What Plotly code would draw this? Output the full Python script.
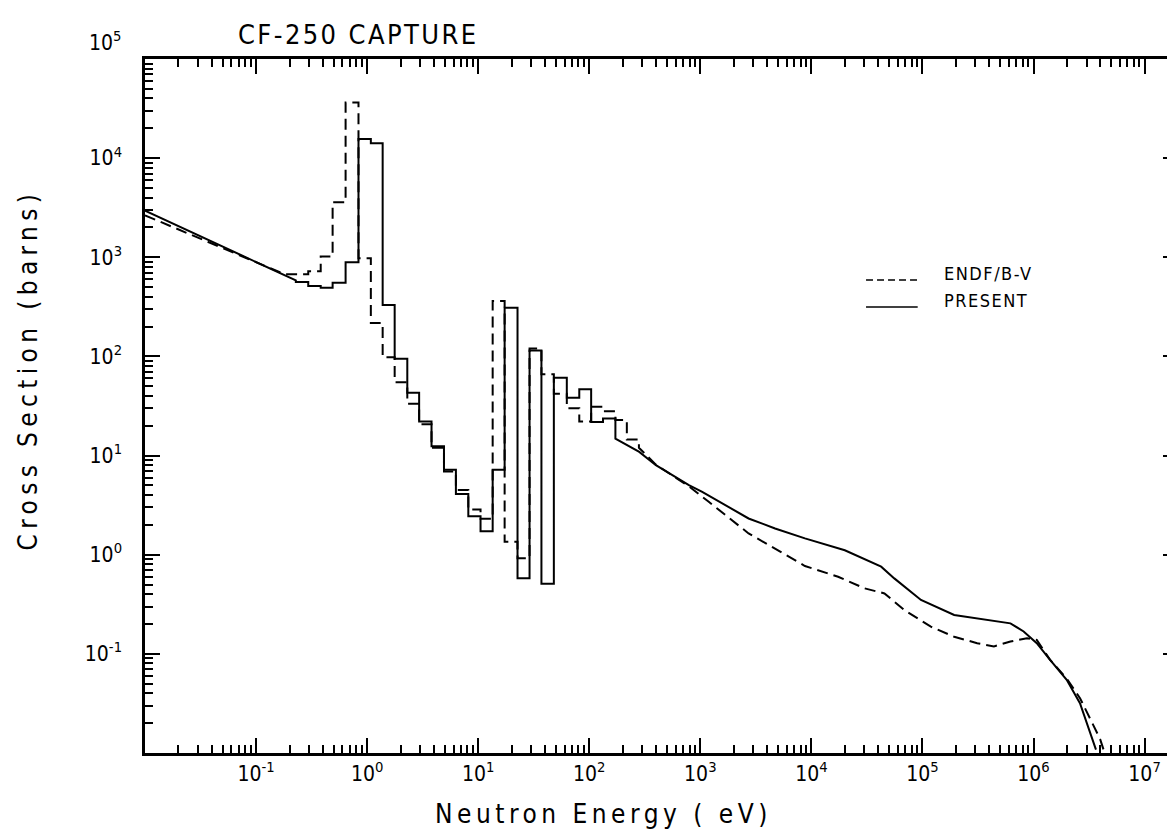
import plotly.graph_objects as go

# ---------------- data ----------------
# PRESENT evaluation
present_low_E = [0.01, 0.228]
present_low_xs = [2960, 584]
present_edges = [0.228, 0.295, 0.382, 0.489, 0.64, 0.836, 1.08, 1.38, 1.77, 2.3,
                 2.94, 3.8, 4.92, 6.3, 8.15, 10.5, 13.5, 17.3, 22.6, 29.0,
                 37.1, 48.0, 62.8, 81.3, 104, 133, 172]
present_group_xs = [562, 512, 493, 552, 890, 15600, 14100, 330, 95, 43,
                    22, 12.4, 7.2, 4.1, 2.45, 1.72, 7.2, 309, 0.58, 115,
                    0.51, 61, 38.4, 46.6, 21.8, 23.6]
present_high_E = [172, 282, 398, 789, 1040, 2720, 4710, 8750, 2.0e4, 4.25e4,
                  5.58e4, 9.7e4, 1.93e5, 3.83e5, 6.2e5, 8.15e5, 1.07e6, 1.41e6,
                  1.99e6, 2.62e6, 3.65e6]
present_high_xs = [14.8, 10.9, 8.0, 5.04, 4.31, 2.32, 1.84, 1.46, 1.11, 0.757,
                   0.577, 0.35, 0.247, 0.22, 0.203, 0.168, 0.128, 0.087,
                   0.0547, 0.0318, 0.0108]

# ENDF/B-V
endf_low_E = [0.01, 0.1, 0.18]
endf_low_xs = [2650, 900, 680]
endf_edges = [0.18, 0.295, 0.382, 0.489, 0.64, 0.836, 1.08, 1.38, 1.77, 2.3,
              2.94, 3.8, 4.92, 6.3, 8.15, 10.5, 13.5, 17.3, 22.6, 29.0,
              37.1, 48.0, 62.8, 81.3, 104, 133, 172, 218, 280]
endf_group_xs = [676, 725, 1020, 3590, 36500, 980, 217, 98, 55, 33.4,
                 20.7, 12.0, 6.9, 4.5, 2.86, 2.3, 362, 1.35, 0.92, 120,
                 66, 42, 30, 22, 31, 28, 22.8, 14.5]
endf_high_E = [280, 398, 789, 1190, 2720, 8750, 1.74e4, 3.01e4, 4.55e4, 6.87e4,
               1.19e5, 1.93e5, 3.11e5, 4.4e5, 6.2e5, 8.73e5, 1.07e6, 1.41e6,
               2.0e6, 2.63e6, 3.31e6, 3.98e6, 4.37e6]
endf_high_xs = [12.0, 8.1, 4.9, 3.42, 1.64, 0.769, 0.60, 0.458, 0.407, 0.277,
                0.188, 0.149, 0.128, 0.119, 0.133, 0.144, 0.138, 0.087,
                0.056, 0.0355, 0.0209, 0.0138, 0.010]

x_tick_vals = [1e-1, 1e0, 1e1, 1e2, 1e3, 1e4, 1e5, 1e6, 1e7]
x_tick_text = ["10<sup>-1</sup>", "10<sup>0</sup>", "10<sup>1</sup>", "10<sup>2</sup>",
               "10<sup>3</sup>", "10<sup>4</sup>", "10<sup>5</sup>", "10<sup>6</sup>",
               "10<sup>7</sup>"]
y_tick_vals = [1e-1, 1e0, 1e1, 1e2, 1e3, 1e4]
y_tick_text = ["10<sup>-1</sup>", "10<sup>0</sup>", "10<sup>1</sup>", "10<sup>2</sup>",
               "10<sup>3</sup>", "10<sup>4</sup>"]
y_top_label = "10<sup>5</sup>"   # drawn a little above the frame, as in the original

legend_names = ["ENDF/B-V", "PRESENT"]


def build(low_E, low_xs, edges, group_xs, high_E, high_xs):
    xs, ys = list(low_E), list(low_xs)
    for i, v in enumerate(group_xs):
        xs += [edges[i], edges[i + 1]]
        ys += [v, v]
    xs += list(high_E)
    ys += list(high_xs)
    return xs, ys


px_, py_ = build(present_low_E, present_low_xs, present_edges, present_group_xs,
                 present_high_E, present_high_xs)
ex_, ey_ = build(endf_low_E, endf_low_xs, endf_edges, endf_group_xs,
                 endf_high_E, endf_high_xs)

FONT = "Liberation Sans Narrow, DejaVu Sans Condensed, Arial Narrow, sans-serif"


def spaced(t, px):
    return f'<span style="letter-spacing:{px}px">{t}</span>'


fig = go.Figure()
fig.add_trace(go.Scatter(x=ex_, y=ey_, mode="lines", name=legend_names[0],
                         showlegend=False,
                         line=dict(color="black", width=2, dash="11px,6px")))
fig.add_trace(go.Scatter(x=px_, y=py_, mode="lines", name=legend_names[1],
                         showlegend=False,
                         line=dict(color="black", width=2)))

minor_x = [m * 10 ** d for d in range(-2, 8) for m in range(2, 10) if m * 10 ** d < 2e7]
minor_y = [m * 10 ** d for d in range(-2, 5) for m in range(2, 10)]

axis_common = dict(type="log", showline=True, linecolor="black", linewidth=2.5,
                   mirror="ticks", ticks="inside", ticklen=15, tickwidth=1.5,
                   tickcolor="black", showgrid=False, zeroline=False,
                   tickmode="array",
                   tickfont=dict(family=FONT, size=21, color="black"))

fig.update_xaxes(**axis_common, range=[-2, 7.301], tickvals=x_tick_vals,
                 ticktext=x_tick_text,
                 minor=dict(ticks="inside", ticklen=8, tickwidth=1.5,
                            tickcolor="black", tickmode="array", tickvals=minor_x,
                            showgrid=False))
fig.update_yaxes(**axis_common, range=[-2, 5], tickvals=y_tick_vals,
                 ticktext=y_tick_text, ticklabelstandoff=16,
                 minor=dict(ticks="inside", ticklen=8, tickwidth=1.5,
                            tickcolor="black", tickmode="array", tickvals=minor_y,
                            showgrid=False))

# legend drawn by hand (no box), line samples sit on the text baseline
leg_x0, leg_x1, leg_tx = 0.698, 0.748, 0.772
leg_rows = [0.6816, 0.6427]
shapes = [
    dict(type="line", xref="paper", yref="paper", x0=leg_x0, x1=leg_x1,
         y0=leg_rows[0], y1=leg_rows[0], line=dict(color="black", width=1.5, dash="7px,4px")),
    dict(type="line", xref="paper", yref="paper", x0=leg_x0, x1=leg_x1,
         y0=leg_rows[1], y1=leg_rows[1], line=dict(color="black", width=1.5)),
]

annotations = [
    dict(text=spaced("CF-250 CAPTURE", 2.4), xref="paper", yref="paper",
         x=0.2066, y=1.036, xanchor="center", yanchor="middle",
         showarrow=False, font=dict(family=FONT, size=27, color="black")),
    dict(text=spaced("Neutron Energy ( eV)", 4.5), xref="paper", yref="paper",
         x=0.444, y=-0.088, xanchor="center", yanchor="middle",
         showarrow=False, font=dict(family=FONT, size=26, color="black")),
    dict(text=spaced("Cross Section (barns)", 5.35), xref="paper", yref="paper",
         x=-0.113, y=0.553, xanchor="center", yanchor="middle", textangle=-90,
         showarrow=False, font=dict(family=FONT, size=26, color="black")),
    dict(text=y_top_label, xref="paper", yref="paper", x=-0.0212, y=1.026,
         xanchor="right", yanchor="middle", showarrow=False,
         font=dict(family=FONT, size=21, color="black")),
]
for name, yr in zip(legend_names, leg_rows):
    annotations.append(dict(text=spaced(name, 1.5), xref="paper", yref="paper",
                            x=leg_tx, y=yr + 0.009, xanchor="left", yanchor="middle",
                            showarrow=False,
                            font=dict(family=FONT, size=18, color="black")))

fig.update_layout(
    width=1175, height=835,
    margin=dict(l=137, r=2, t=51, b=90),
    paper_bgcolor="white", plot_bgcolor="white",
    font=dict(family=FONT, color="black"),
    showlegend=False,
    shapes=shapes,
    annotations=annotations,
)

fig.write_html("out.html")
